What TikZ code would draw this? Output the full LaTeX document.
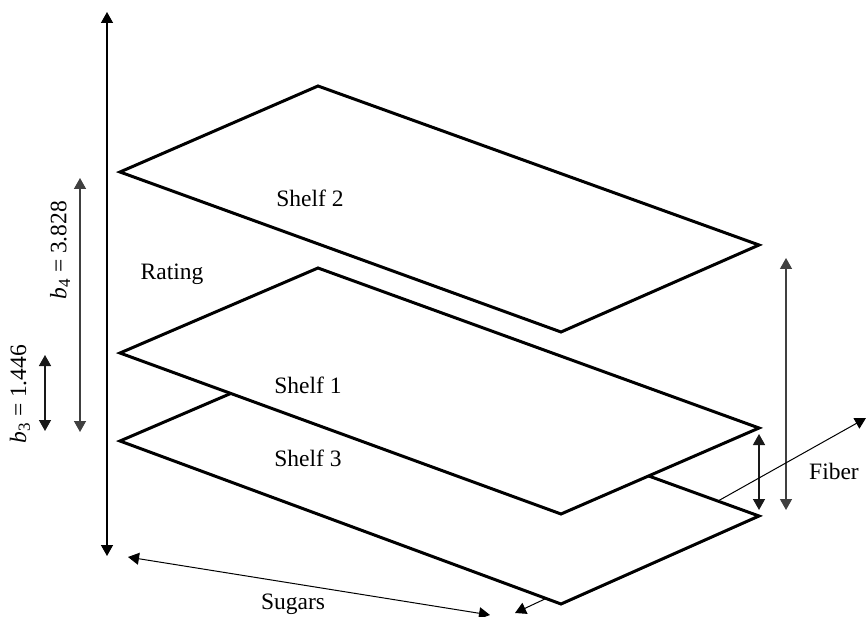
\documentclass[tikz,border=0pt]{standalone}
\usepackage{fontspec}
\setmainfont{Liberation Serif}
\usetikzlibrary{arrows.meta}
\begin{document}
\begin{tikzpicture}[x=1pt,y=-1pt,
  plane/.style={line width=3pt,line join=miter,fill=white},
  dim/.style={line width=1.4pt,{Triangle[length=11pt,width=12pt]}-{Triangle[length=11pt,width=12pt]}},
  onearrow/.style={line width=1pt,-{Triangle[length=11pt,width=12pt]}},
  lbl/.style={font=\fontsize{23.5}{27}\selectfont,inner sep=0pt}]
\useasboundingbox (0,0) rectangle (866,617);
% Shelf 3
\draw[plane] (120,441) -- (318,356) -- (759,516) -- (561,604) -- cycle;
% Shelf 1
\draw[plane] (120,353) -- (318,268) -- (759,428) -- (561,514) -- cycle;
% Shelf 2
\draw[plane] (120,172) -- (318,86) -- (759,245) -- (561,332) -- cycle;
% coordinates for connectors
\coordinate (ratT) at (107,12);
\coordinate (ratB) at (107,556);
\coordinate (b4T) at (80,178);
\coordinate (b4B) at (80,432);
\coordinate (b3T) at (45,355);
\coordinate (b3B) at (45,431);
\coordinate (rbT) at (786,258);
\coordinate (rbB) at (786,510);
\coordinate (rsT) at (759,434);
\coordinate (rsB) at (759,510);
\coordinate (fibS) at (718,501);
\coordinate (fibE) at (866,418);
\coordinate (sugL) at (128,557);
\coordinate (sugR) at (490,615);
\coordinate (sugS) at (547,598);
\coordinate (sugE) at (515,613);
% arrows
\draw[dim,black] (ratT) -- (ratB);
\draw[dim,black!75] (b4T) -- (b4B);
\draw[dim,black!90] (b3T) -- (b3B);
\draw[dim,black!75] (rbT) -- (rbB);
\draw[dim,black!90] (rsT) -- (rsB);
\draw[onearrow] (fibS) -- (fibE);
\draw[dim,line width=1pt] (sugL) -- (sugR);
\draw[onearrow] (sugS) -- (sugE);
% labels
\node[lbl] (s2) at (310,198) {Shelf 2};
\node[lbl] (s1) at (308,385) {Shelf 1};
\node[lbl] (s3) at (308,458) {Shelf 3};
\node[lbl] (rat) at (172,274) {Rating};
\node[lbl] (fib) at (834,471) {Fiber};
\node[lbl] (sug) at (293,604) {Sugars};
\node[lbl,rotate=90] (b4) at (60,250) {\textit{b}\raisebox{-0.35ex}{\fontsize{17}{17}\selectfont 4} = 3.828};
\node[lbl,rotate=90] (b3) at (20,394) {\textit{b}\raisebox{-0.35ex}{\fontsize{17}{17}\selectfont 3} = 1.446};
\end{tikzpicture}
\end{document}
